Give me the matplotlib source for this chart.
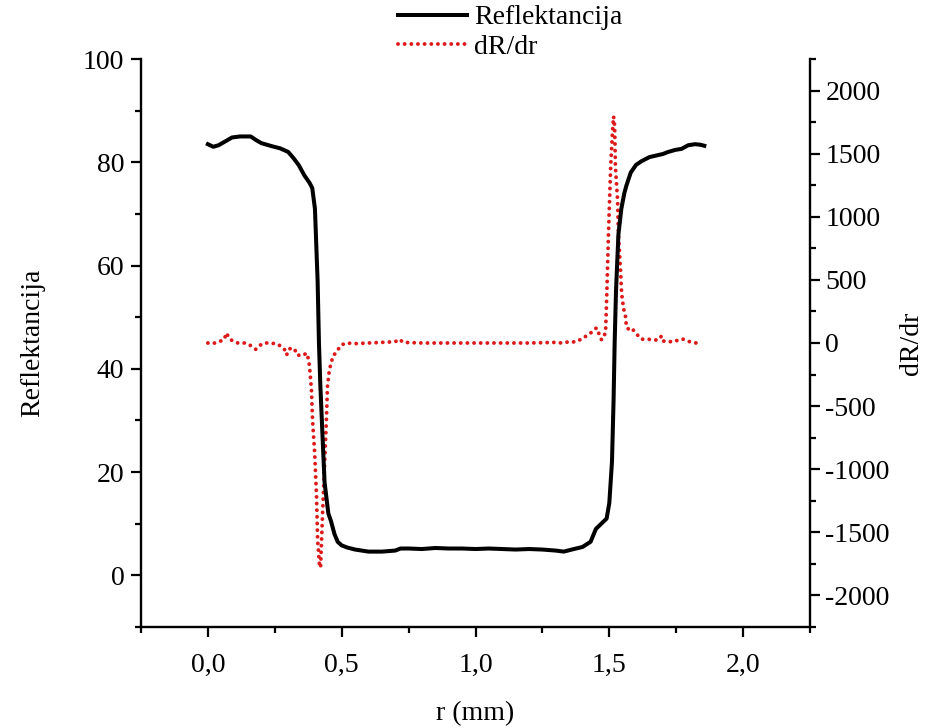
import matplotlib
matplotlib.use("Agg")
import matplotlib.pyplot as plt
from matplotlib.ticker import MultipleLocator, FixedLocator

plt.rcParams['font.family'] = ['Liberation Serif', 'DejaVu Serif']
plt.rcParams['axes.unicode_minus'] = False

# Reflectance curve (left axis)
r_refl = [0.00, 0.02, 0.04, 0.07, 0.09, 0.12, 0.16, 0.18, 0.20, 0.24, 0.27, 0.30,
          0.32, 0.34, 0.36, 0.38, 0.39, 0.40, 0.405, 0.41, 0.415, 0.42, 0.425, 0.43,
          0.436, 0.443, 0.45, 0.46, 0.473, 0.485, 0.50, 0.52, 0.55, 0.60, 0.65, 0.70,
          0.72, 0.75, 0.80, 0.85, 0.90, 0.95, 1.00, 1.05, 1.10, 1.15, 1.20, 1.25,
          1.30, 1.33, 1.36, 1.40, 1.43, 1.45, 1.47, 1.49, 1.50, 1.51, 1.516, 1.52,
          1.525, 1.534, 1.545, 1.556, 1.564, 1.58, 1.60, 1.62, 1.65, 1.683, 1.70,
          1.72, 1.747, 1.77, 1.795, 1.82, 1.84, 1.855]
refl = [83.5, 83.0, 83.3, 84.2, 84.8, 85.0, 85.0, 84.3, 83.7, 83.1, 82.7, 82.0,
        80.8, 79.4, 77.5, 76.0, 75.0, 71.0, 64.0, 57.0, 45.0, 37.0, 31.0, 25.0,
        18.0, 15.0, 12.0, 10.5, 8.0, 6.5, 5.8, 5.4, 5.0, 4.6, 4.6, 4.8,
        5.2, 5.2, 5.1, 5.3, 5.2, 5.2, 5.1, 5.2, 5.1, 5.0, 5.1, 5.0,
        4.8, 4.6, 5.0, 5.5, 6.5, 9.0, 10.0, 11.0, 14.0, 22.0, 34.0, 45.0,
        55.0, 66.0, 71.0, 74.0, 75.5, 78.0, 79.5, 80.2, 81.0, 81.4, 81.6,
        82.0, 82.4, 82.6, 83.3, 83.5, 83.4, 83.2]

# Derivative dR/dr (right axis)
r_deriv = [0.000, 0.018, 0.040, 0.060, 0.070, 0.078, 0.093, 0.112, 0.141, 0.164,
           0.179, 0.190, 0.208, 0.235, 0.261, 0.283, 0.291, 0.294, 0.305, 0.324,
           0.332, 0.354, 0.369, 0.376, 0.380, 0.387, 0.391, 0.399, 0.406, 0.410,
           0.417, 0.421, 0.428, 0.436, 0.443, 0.447, 0.454, 0.462, 0.466, 0.480,
           0.499, 0.518, 0.550, 0.600, 0.650, 0.700, 0.715, 0.730, 0.800, 0.900,
           1.000, 1.100, 1.200, 1.300, 1.322, 1.352, 1.374, 1.404, 1.410, 1.434,
           1.452, 1.471, 1.486, 1.490, 1.497, 1.505, 1.512, 1.516, 1.520, 1.523,
           1.531, 1.534, 1.542, 1.546, 1.553, 1.561, 1.564, 1.572, 1.583, 1.598,
           1.609, 1.620, 1.635, 1.646, 1.665, 1.683, 1.695, 1.702, 1.713, 1.739,
           1.765, 1.777, 1.803, 1.825]
deriv = [0, -5, 10, 25, 80, 40, 15, 0, 0, -25,
         -50, -25, 0, 0, -10, -40, -70, -95, -45, -45,
         -95, -100, -80, -130, -190, -370, -610, -870, -1220, -1560,
         -1760, -1780, -1380, -960, -600, -340, -210, -150, -110, -70,
         -15, 0, -5, 0, 5, 10, 30, 5, 0, 0,
         0, 0, 0, 5, 0, 10, 8, 40, 50, 85,
         120, 25, 80, 340, 870, 1390, 1680, 1795, 1720, 1390,
         1130, 870, 575, 395, 277, 205, 125, 110, 120, 80,
         55, 30, 30, 30, 24, 24, 55, 15, 15, 8,
         30, 30, 8, 0]

xtick_vals = [0.0, 0.5, 1.0, 1.5, 2.0]
xtick_labels = ["0,0", "0,5", "1,0", "1,5", "2,0"]

W, H = 932, 728
fig = plt.figure(figsize=(W / 100, H / 100), dpi=100)
ax = fig.add_axes([141 / W, 1 - 627 / H, (810 - 141) / W, (627 - 59) / H])
ax2 = ax.twinx()

red = '#dd1a1a'
l2, = ax2.plot(r_deriv, deriv, color=red, lw=2.8, linestyle=(0, (0.01, 1.7)),
               dash_capstyle='round', label='dR/dr')
l1, = ax.plot(r_refl, refl, color='black', lw=2.9, label='Reflektancija',
              solid_joinstyle='round')

# black curve on top
ax.set_zorder(ax2.get_zorder() + 1)
ax.patch.set_visible(False)

ax.set_xlim(-0.25, 2.25)
ax.set_ylim(-10, 100)
ax2.set_ylim(-2250, 2250)

ax.xaxis.set_major_locator(FixedLocator(xtick_vals))
ax.set_xticklabels(xtick_labels)
ax.xaxis.set_minor_locator(MultipleLocator(0.25))
ax.yaxis.set_major_locator(MultipleLocator(20))
ax.yaxis.set_minor_locator(MultipleLocator(10))
ax2.yaxis.set_major_locator(MultipleLocator(500))
ax2.yaxis.set_minor_locator(MultipleLocator(250))

fs = 20
for a in (ax, ax2):
    a.spines['top'].set_visible(False)
    for s in a.spines.values():
        s.set_linewidth(1.7)
    a.tick_params(which='major', direction='out', length=7, width=1.6, labelsize=fs, pad=5)
    a.tick_params(which='minor', direction='out', length=4, width=1.6)
ax.spines['right'].set_visible(False)
ax2.spines['left'].set_visible(False)
ax2.spines['bottom'].set_visible(False)
ax.tick_params(axis='x', which='major', pad=12)
ax2.tick_params(axis='y', which='major', pad=4)

ax.set_xlabel('r (mm)', fontsize=fs)
ax.set_ylabel('Reflektancija', fontsize=fs)
ax2.set_ylabel('dR/dr', fontsize=fs)
ax.xaxis.set_label_coords(0.5, -0.13)
ax.yaxis.set_label_coords(-0.1435, 0.5)
ax2.yaxis.set_label_coords(1.133, 0.5)

fig.legend(handles=[l1, l2], loc='upper left', bbox_to_anchor=(398 / W, 1 - 5 / H),
           frameon=False, fontsize=fs, borderpad=0, borderaxespad=0,
           handlelength=2.5, handletextpad=0.25, labelspacing=0.15)

fig.savefig('out.png', dpi=100)
